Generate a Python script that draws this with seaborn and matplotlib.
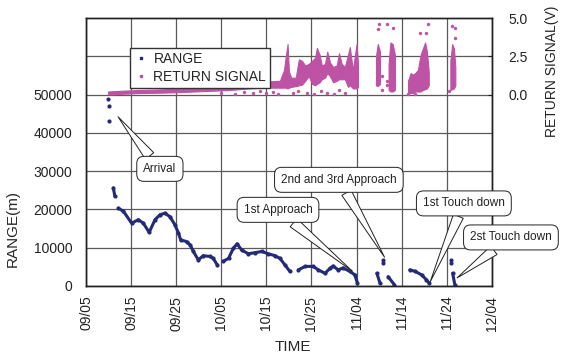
import numpy as np
import pandas as pd
import matplotlib
matplotlib.use("Agg")
import matplotlib.pyplot as plt
import matplotlib.dates as mdates
import seaborn as sns
from matplotlib.lines import Line2D

START = pd.Timestamp("2005-09-05")

# ---- RANGE (m): day offset from 09/05, value, segment id ----
range_day = [4.95, 5.05, 5.2,
             6.05, 6.4,
             7.2, 8.3, 10.1, 11.6, 12.7, 14.0, 15.3, 16.4, 17.5, 18.6, 19.7, 20.5, 21.0,
             22.3, 23.1, 23.8, 24.9, 26.0, 27.5, 28.2, 29.1,
             30.4, 31.6, 32.7, 33.5, 34.5, 36.0, 37.5, 39.0, 40.4, 41.9, 43.0, 44.1, 45.2,
             47.1, 48.6, 50.4, 51.5, 53.0, 54.1, 54.8, 55.9, 57.0, 58.5, 59.6, 60.2,
             64.5, 65.2,
             65.8,
             65.85,
             67.0, 68.4,
             71.8, 73.0, 74.4, 75.5, 76.1,
             80.9,
             80.95,
             81.3, 81.8]
range_m = [48800, 47000, 43000,
           25600, 23400,
           20300, 19500, 16400, 17300, 16400, 14000, 17300, 18600, 19000, 18100, 16000, 13800, 12000,
           11600, 10700, 9000, 6800, 7900, 7700, 7200, 5500,
           6400, 7200, 9900, 11000, 9400, 8400, 8700, 9000, 8400, 7900, 7200, 5500, 3800,
           4200, 5100, 5100, 4200, 3300, 4600, 5200, 4200, 4700, 3800, 2900, 700,
           3300, 700,
           6100,
           6700,
           2400, 300,
           4200, 3800, 2900, 1600, 700,
           6800,
           6000,
           3300, 300]
range_seg = [0, 1, 2,
             3, 3,
             4, 4, 4, 4, 4, 4, 4, 4, 4, 4, 4, 4, 4,
             4, 4, 4, 4, 4, 4, 4, 4,
             5, 5, 5, 5, 5, 5, 5, 5, 5, 5, 5, 5, 5,
             6, 6, 6, 6, 6, 6, 6, 6, 6, 6, 6, 6,
             7, 7,
             8,
             9,
             10, 10,
             11, 11, 11, 11, 11,
             12,
             13,
             14, 14]

# ---- RETURN SIGNAL (V): envelope of the dense point cloud ----
sig_day = [4.9, 8, 12, 16, 20, 24, 28, 32, 36, 40, 43, 43.9, 44.3, 44.7, 45.0, 45.5, 46.5,
           47.2, 47.9, 48.6, 49.4, 50.1, 50.8, 51.2, 51.8, 52.3, 53.0, 53.5, 54.1, 54.8,
           55.6, 56.1, 56.7, 57.4, 58.1, 58.5, 58.9, 59.2, 59.6, 60.0, 60.3,
           64.3, 64.7, 65.2,
           67.1, 67.5, 68.0, 68.5,
           71.4, 72.0, 72.5, 73.0, 73.6, 74.2, 74.7, 75.2, 75.6, 76.0,
           80.8, 81.2, 81.6, 81.9]
sig_lo = [0.0, 0.05, 0.1, 0.12, 0.15, 0.2, 0.25, 0.3, 0.4, 0.45, 0.45, 0.45, 0.45, 0.4, 0.45, 0.5, 0.55,
          0.6, 0.65, 0.9, 1.2, 0.7, 0.6, 0.7, 0.8, 1.0, 1.1, 1.4, 1.2, 0.8,
          0.9, 1.0, 1.0, 1.0, 0.5, 0.6, 0.5, 0.4, 0.4, 0.4, 0.5,
          0.6, 0.55, 0.7,
          0.3, 0.2, 0.2, 0.3,
          0.1, 0.1, 0.1, 0.2, 0.2, 0.2, 0.3, 0.35, 0.4, 0.6,
          0.3, 0.35, 0.4, 0.6]
sig_hi = [0.2, 0.25, 0.3, 0.33, 0.38, 0.45, 0.55, 0.65, 0.75, 0.85, 0.9, 1.6, 2.5, 3.3, 1.5, 1.1, 1.1,
          2.3, 2.2, 1.9, 2.0, 2.2, 2.4, 3.05, 2.6, 1.9, 2.0, 2.8, 2.1, 1.8,
          1.9, 2.7, 2.0, 1.8, 2.6, 3.1, 2.2, 1.6, 2.5, 3.3, 2.0,
          2.5, 3.3, 2.8,
          2.0, 3.4, 3.3, 2.6,
          0.9, 1.4, 1.3, 1.4, 1.6, 2.6, 3.0, 3.4, 2.8, 1.5,
          2.2, 3.3, 3.0, 1.8]
sig_seg = [0] * 41 + [1] * 3 + [2] * 4 + [3] * 10 + [4] * 4

# scattered single signal points
dot_day = [30, 33, 35, 37, 38.5, 40, 41.5, 42.5, 46, 47, 49, 50.5, 52, 53.5, 55, 56, 57.5,
           65.6, 65.6, 66.8, 66.8, 71.5, 73, 80.5,
           64.9, 66.7, 68.1, 74.1, 75.3, 75.9, 81.1, 81.8, 81.8, 64.8]
dot_v = [0.1, 0.05, 0.15, 0.1, 0.2, 0.1, 0.15, 0.05, 0.1, 0.2, 0.1, 0.05, 0.2, 0.1, 0.05, 0.3, 0.1,
         0.3, 1.2, 0.6, 0.9, 0.05, 0.05, 0.2,
         4.6, 4.6, 4.35, 4.0, 4.0, 4.6, 4.5, 4.35, 3.7, 4.3]

# ---- annotations ----
ann_text = ["Arrival", "1st Approach", "2nd and 3rd Approach", "1st Touch down", "2st Touch down"]
ann_day = [7.1, 59.0, 66.2, 76.3, 82.3]
ann_range = [44200, 3900, 7500, 1000, 2100]
ann_box = [(0.182, 0.437), (0.473, 0.284), (0.623, 0.396), (0.931, 0.308), (1.047, 0.181)]

tick_days = [0, 10, 20, 30, 40, 50, 60, 70, 80, 90]
tick_labels = ["09/05", "09/15", "09/25", "10/05", "10/15", "10/25", "11/04", "11/14", "11/24", "12/04"]
range_ticks = [0, 10000, 20000, 30000, 40000, 50000, 60000]
range_tick_labels = ["0", "10000", "20000", "30000", "40000", "50000", ""]
sig_ticks = [0.0, 2.5, 5.0]
sig_tick_labels = ["0.0", "2.5", "5.0"]

NAVY = "#232a78"
PINK = "#be52a4"

sns.set_style("white")
plt.rcParams["font.family"] = ["Liberation Sans", "DejaVu Sans"]


def to_dates(days):
    return START + pd.to_timedelta(np.asarray(days, dtype=float), unit="D")


fig = plt.figure(figsize=(5.66, 3.53), dpi=100)
ax = fig.add_axes([0.152, 0.19, 0.717, 0.759])

df = pd.DataFrame({"date": to_dates(range_day), "range": range_m, "seg": range_seg})
sns.lineplot(data=df, x="date", y="range", units="seg", estimator=None, sort=False,
             color=NAVY, linewidth=2.2, marker="o", markersize=3, markeredgewidth=0,
             ax=ax, legend=False)

ax2 = ax.twinx()
sdf = pd.DataFrame({"date": to_dates(sig_day), "lo": sig_lo, "hi": sig_hi, "seg": sig_seg})
for _, g in sdf.groupby("seg"):
    ax2.fill_between(g["date"], g["lo"], g["hi"], color=PINK, edgecolor=PINK, linewidth=0.8)
sns.scatterplot(x=to_dates(dot_day), y=dot_v, ax=ax2, color=PINK, s=6, linewidth=0)

ax.set_xlim(to_dates([0])[0], to_dates([90])[0])
ax.set_ylim(0, 70000)
ax2.set_ylim(-12.5, 5.0)

ax.set_xticks(to_dates(tick_days))
ax.set_xticklabels(tick_labels, rotation=90, fontsize=10)
ax.set_yticks(range_ticks)
ax.set_yticklabels(range_tick_labels, fontsize=10)
ax2.set_yticks(sig_ticks)
ax2.set_yticklabels(sig_tick_labels, fontsize=10)

ax.tick_params(axis="x", length=0, pad=7, colors="#222")
ax.tick_params(axis="y", length=0, pad=10, colors="#222")
ax2.tick_params(axis="y", length=3, direction="in", pad=12, colors="#222")

ax.grid(True, color="#5a5a5a", linewidth=0.9)
ax2.grid(False)
for a in (ax, ax2):
    for sp in a.spines.values():
        sp.set_color("#222")
        sp.set_linewidth(1.0)

ax.set_xlabel("TIME", fontsize=11)
ax.xaxis.set_label_coords(0.51, -0.2)
ax.set_ylabel("RANGE(m)", fontsize=11)
ax.yaxis.set_label_coords(-0.163, 0.213)
ax2.set_ylabel("RETURN SIGNAL(V)", fontsize=10)
ax2.yaxis.set_label_coords(1.13, 0.80)

handles = [Line2D([], [], ls="", marker="s", markersize=2, color=NAVY),
           Line2D([], [], ls="", marker="s", markersize=2, color=PINK)]
leg = ax2.legend(handles, ["RANGE", "RETURN SIGNAL"], loc="upper left",
                 bbox_to_anchor=(0.108, 0.888), borderaxespad=0, fontsize=10, frameon=True,
                 fancybox=False, framealpha=1, edgecolor="#333", borderpad=0.3, labelspacing=0.25,
                 handletextpad=0.4, handlelength=1.0)
leg.get_frame().set_linewidth(1.0)

for txt, d, r, box in zip(ann_text, ann_day, ann_range, ann_box):
    ax2.annotate(txt, xy=(mdates.date2num(to_dates([d])[0]), r), xycoords=ax.transData,
                 xytext=box, textcoords="axes fraction", ha="center", va="center",
                 fontsize=8.5, color="#222", annotation_clip=False, zorder=10,
                 bbox=dict(boxstyle="round,pad=0.55,rounding_size=0.6", fc="white", ec="#222", lw=0.7),
                 arrowprops=dict(arrowstyle="wedge,tail_width=0.9,shrink_factor=0.5", fc="white",
                                 ec="#222", lw=0.7, shrinkA=0, shrinkB=0))

fig.savefig("out.png", dpi=100)
